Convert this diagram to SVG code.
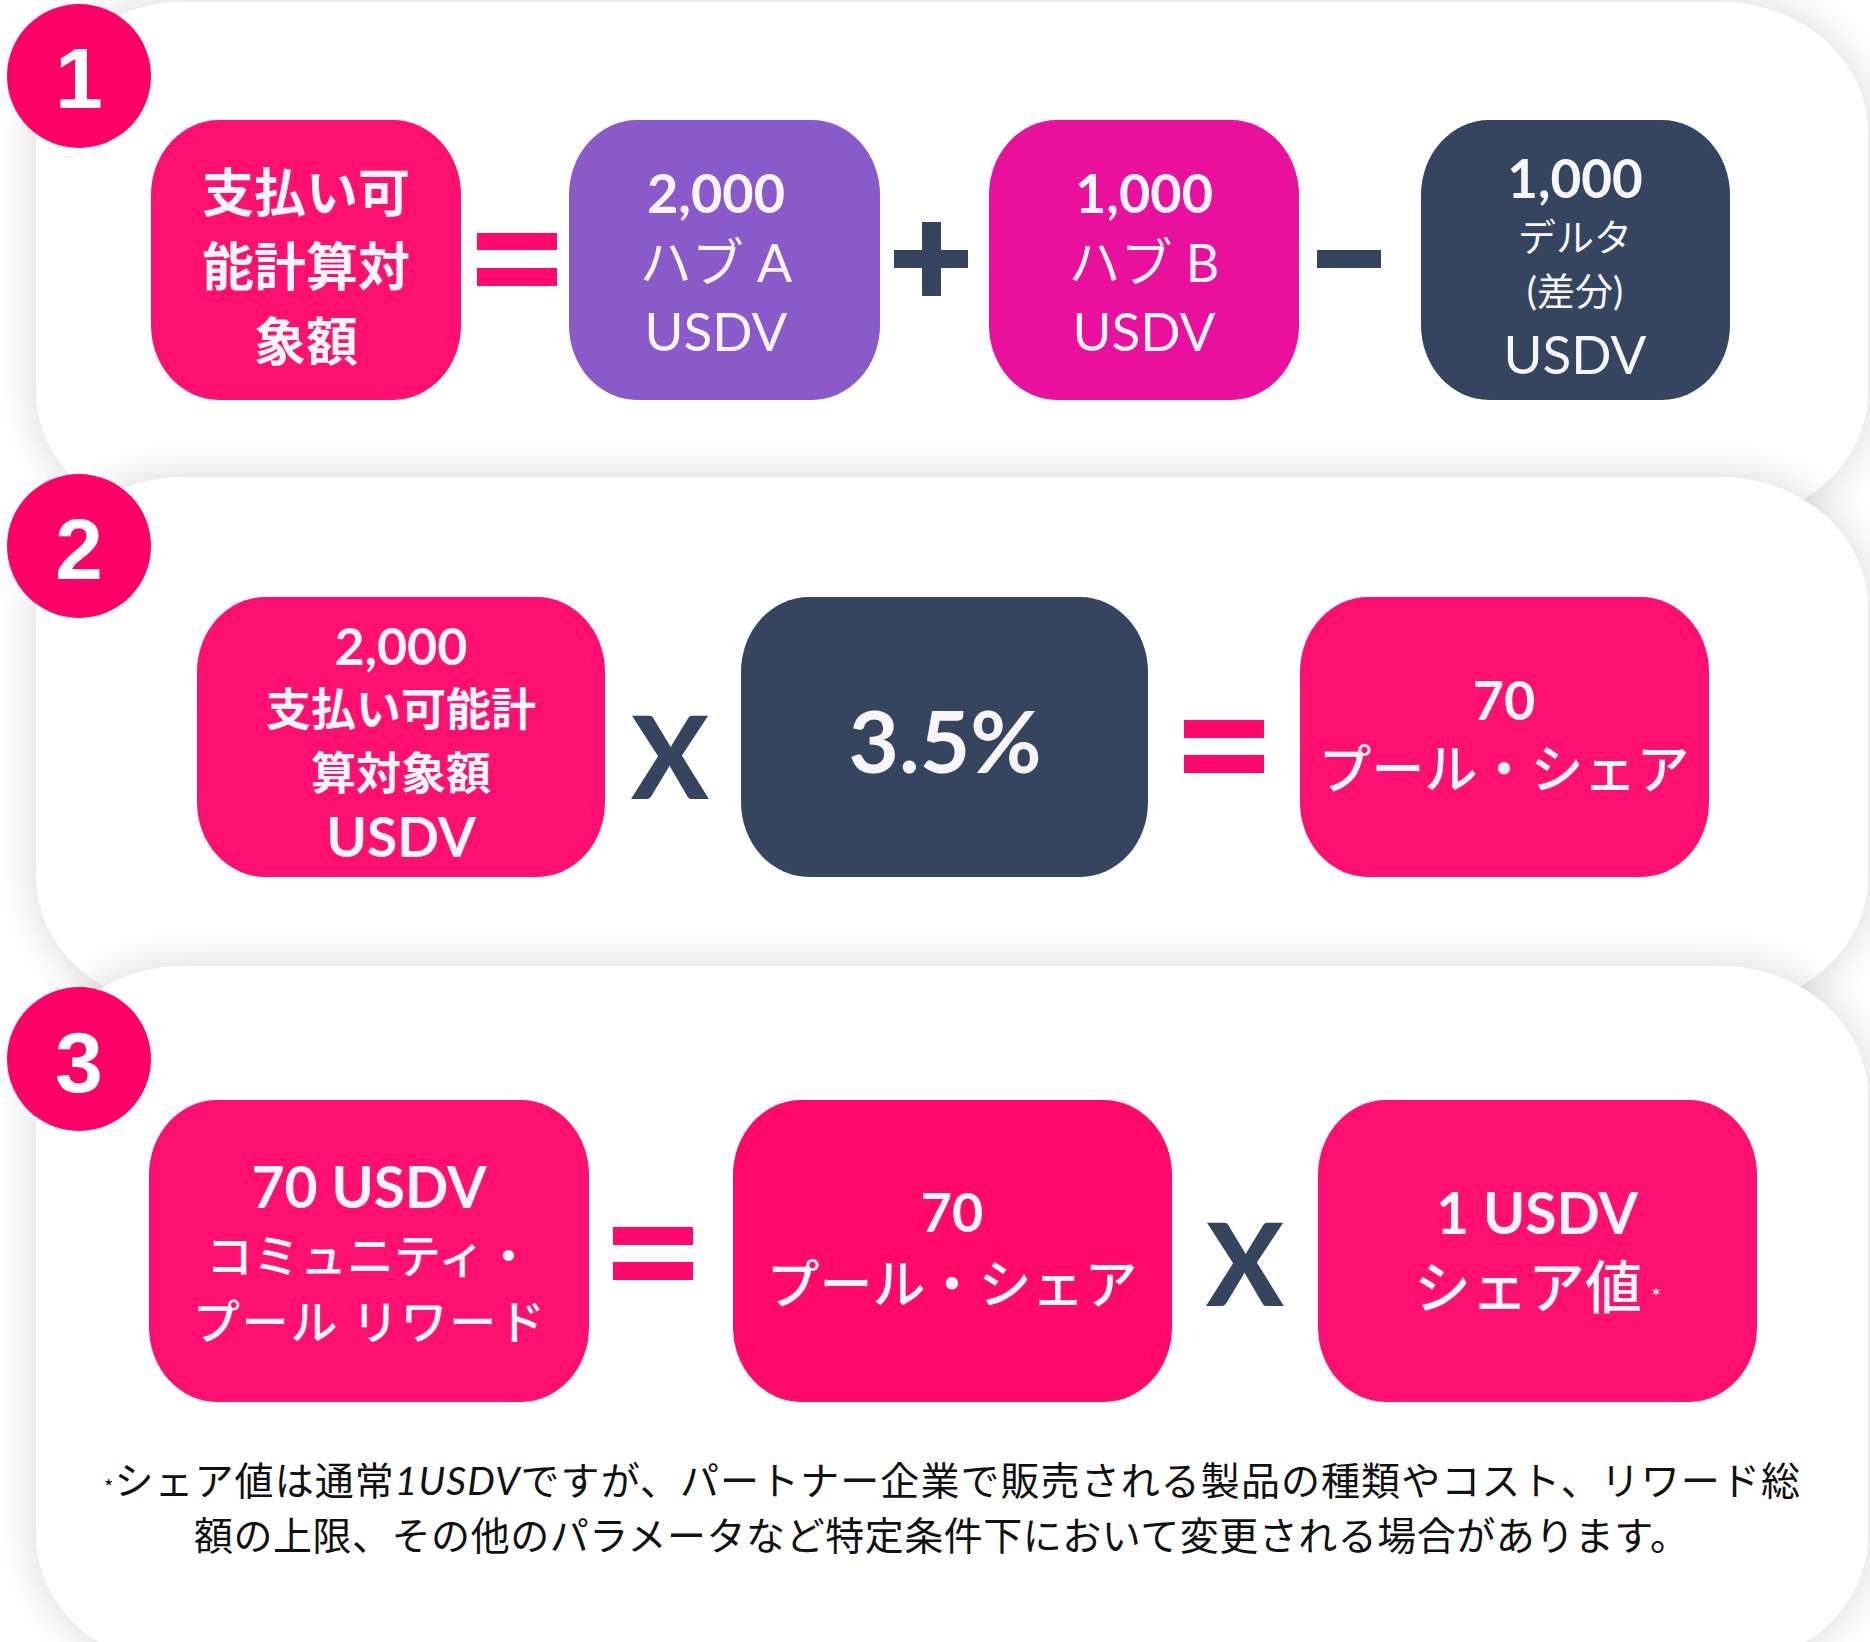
<svg xmlns="http://www.w3.org/2000/svg" width="1870" height="1642" viewBox="0 0 1870 1642">
<defs>
<filter id="sh" x="-10%" y="-20%" width="120%" height="140%">
<feDropShadow dx="0" dy="0" stdDeviation="20" flood-color="#000" flood-opacity="0.16"/>
</filter>
<style>
.panel{fill:#fff;filter:url(#sh)}
.badge{fill:#ff0066}
.num{font-family:"Liberation Sans",Arial,sans-serif;font-size:86px;font-weight:700;fill:#fff;text-anchor:middle}
.t{font-family:Lato,"Noto Sans CJK JP",sans-serif;fill:#f7f5f8;text-anchor:middle}
.j{font-family:"Noto Sans CJK JP",sans-serif;fill:#f7f5f8;text-anchor:middle}
.b{font-weight:700}
.m{font-weight:500}
.pink{fill:#ff1070}
.op-p{fill:#ff0a6c}
.op-d{fill:#35455f}
.x{font-family:Lato,"Liberation Sans",sans-serif;font-weight:900;font-size:114px;fill:#35455f;text-anchor:middle}
.foot{font-family:"Noto Sans CJK JP",sans-serif;font-size:39px;fill:#111}
</style>
</defs>
<rect width="1870" height="1642" fill="#fff"/>

<!-- Panel 1 -->
<g id="panel1">
<rect class="panel" x="36" y="2" width="1832" height="520" rx="148" ry="131"/>
</g>
<g id="p1-nodes">
<g id="p1-payable">
<rect class="pink" x="151" y="120" width="310" height="280" rx="68" ry="75"/>
<text class="j b" font-size="52" x="306" y="212">支払い可</text>
<text class="j b" font-size="52" x="306" y="286">能計算対</text>
<text class="j b" font-size="52" x="306" y="361">象額</text>
</g>
<g id="p1-hubA">
<rect x="569" y="120" width="311" height="280" rx="68" ry="75" fill="#8a5acb"/>
<text class="t b" font-size="54" x="716" y="213">2,000</text>
<text class="t" font-size="52" x="716" y="282">ハブ A</text>
<text class="t" font-size="53" x="716" y="351">USDV</text>
</g>
<g id="p1-hubB">
<rect x="989" y="120" width="310" height="280" rx="68" ry="75" fill="#e8109c"/>
<text class="t b" font-size="54" x="1144" y="213">1,000</text>
<text class="t" font-size="52" x="1144" y="282">ハブ B</text>
<text class="t" font-size="53" x="1144" y="351">USDV</text>
</g>
<g id="p1-delta">
<rect x="1421" y="120" width="309" height="280" rx="68" ry="75" fill="#35455f"/>
<text class="t b" font-size="53" x="1575" y="198">1,000</text>
<text class="t" font-size="38" x="1575" y="251">デルタ</text>
<text class="t" font-size="38" x="1575" y="305">(差分)</text>
<text class="t" font-size="53" x="1575" y="374">USDV</text>
</g>
</g>

<!-- Panel 2 -->
<g id="panel2">
<rect class="panel" x="36" y="477" width="1832" height="530" rx="148" ry="131"/>
</g>
<g id="p2-nodes">
<g id="p2-payable">
<rect class="pink" x="197" y="597" width="408" height="280" rx="68" ry="75"/>
<text class="t b" font-size="52" x="401" y="665">2,000</text>
<text class="j b" font-size="45" x="401" y="726">支払い可能計</text>
<text class="j b" font-size="45" x="401" y="790">算対象額</text>
<text class="t b" font-size="55" x="401" y="857">USDV</text>
</g>
<g id="p2-rate">
<rect x="741" y="597" width="407" height="280" rx="68" ry="75" fill="#35455f"/>
<text class="t b" font-size="87" x="945" y="773">3.5%</text>
</g>
<g id="p2-share">
<rect class="pink" x="1300" y="597" width="409" height="280" rx="68" ry="75"/>
<text class="t b" font-size="54" x="1504" y="720">70</text>
<text class="j m" font-size="53" x="1504" y="789">プール・シェア</text>
</g>
</g>

<!-- Panel 3 -->
<g id="panel3">
<rect class="panel" x="36" y="966" width="1832" height="700" rx="148" ry="131"/>
</g>
<g id="p3-nodes">
<g id="p3-reward">
<rect class="pink" x="149" y="1100" width="440" height="302" rx="68" ry="75"/>
<text class="t b" font-size="57" x="369" y="1208">70 USDV</text>
<text class="j m" font-size="47" x="369" y="1273">コミュニティ・</text>
<text class="j m" font-size="47" x="369" y="1339" textLength="352" lengthAdjust="spacing">プール リワード</text>
</g>
<g id="p3-share">
<rect x="733" y="1100" width="439" height="302" rx="68" ry="75" fill="#ff0a6a"/>
<text class="t b" font-size="54" x="952" y="1232">70</text>
<text class="j m" font-size="53" x="952" y="1304">プール・シェア</text>
</g>
<g id="p3-value">
<rect class="pink" x="1318" y="1100" width="439" height="302" rx="68" ry="75"/>
<text class="t b" font-size="57" x="1537" y="1234">1 USDV</text>
<text class="j m" font-size="57" x="1528" y="1308">シェア値</text>
<text class="t" font-size="24" x="1656" y="1305">*</text>
</g>
</g>

<!-- Badges -->
<g id="badge1"><circle class="badge" cx="79" cy="76" r="72"/><text class="num" x="79" y="108">1</text></g>
<g id="badge2"><circle class="badge" cx="79" cy="546" r="72"/><text class="num" x="79" y="579">2</text></g>
<g id="badge3"><circle class="badge" cx="79" cy="1059" r="72"/><text class="num" x="79" y="1092">3</text></g>

<!-- Operators (connectors) -->
<g id="connectors">
<rect class="op-p" x="477" y="233" width="80" height="17"/>
<rect class="op-p" x="477" y="268" width="80" height="18"/>
<rect class="op-d" x="894" y="250" width="74" height="18"/>
<rect class="op-d" x="922" y="222" width="19" height="74"/>
<rect class="op-d" x="1317" y="250" width="64" height="18"/>
<text class="x" x="670" y="799">X</text>
<rect class="op-p" x="1184" y="720" width="80" height="18"/>
<rect class="op-p" x="1184" y="755" width="80" height="18"/>
<rect class="op-p" x="613" y="1227" width="80" height="18"/>
<rect class="op-p" x="613" y="1262" width="80" height="18"/>
<text class="x" x="1245" y="1306">X</text>
</g>

<!-- Footnote -->
<g id="footnote">
<text class="foot" x="104" y="1495" textLength="1696" lengthAdjust="spacing"><tspan font-size="20">*</tspan>シェア値は通常<tspan font-style="italic" font-family="Lato, sans-serif">1USDV</tspan>ですが、パートナー企業で販売される製品の種類やコスト、リワード総</text>
<text class="foot" x="194" y="1550" textLength="1495" lengthAdjust="spacing">額の上限、その他のパラメータなど特定条件下において変更される場合があります。</text>
</g>
</svg>
